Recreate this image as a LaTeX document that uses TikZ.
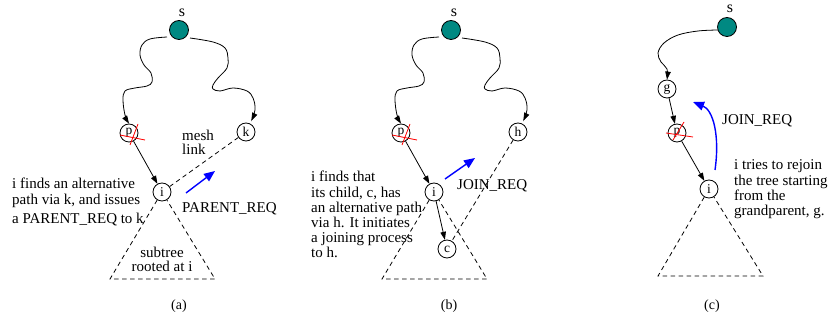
\documentclass[tikz,border=0pt]{standalone}
\usepackage{fontspec}
\setmainfont{Liberation Serif}
\usetikzlibrary{arrows.meta}
\definecolor{tealf}{RGB}{0,137,130}
\newcommand\upperAB[1]{%
  \node[src] (s) at (179,30) {};
  \node[ctxt,font=\fontsize{16}{16}\selectfont] (sl) at (182,17) {s};
  \node[nd] (p) at (129,133) {p};
  \node[nd] (r) at (246,132) {#1};
  \node[nd] (i) at (162,192) {i};
  \draw[cross] ([shift={(-9,2)}]p.center) -- ++(25,5);
  \draw[cross] ([shift={(1,12)}]p.center) -- ++(8,-21);
  \coordinate (s0) at ([shift={(-12,7)}]s.center);
  \coordinate (s1) at ([shift={(11,8)}]s.center);
  \draw[arr] plot[smooth,tension=0.6] coordinates {(s0) (150,39) (142,45) (140,55) (144,65) (151,73) (152,82) (147,86) (135,88) (125,91) (123,100) (125,115) (p.north)};
  \draw[arr,shorten >=3pt] plot[smooth,tension=0.6] coordinates {(s1) (213,42) (225,48) (228,58) (227,68) (218,78) (213,85) (213,89) (220,91) (233,88) (247,91) (253,98) (255,110) (r.65)};
  \draw[arr] (p) -- (i);
  \draw[dsh] (i) -- (110,279) -- (215,279) -- (i);
}
\begin{document}
\begin{tikzpicture}[x=1pt,y=-1pt,
  nd/.style={circle,draw,line width=0.8pt,inner sep=0pt,minimum size=18pt,font=\fontsize{13.5}{13.5}\selectfont},
  src/.style={circle,draw,line width=0.8pt,fill=tealf,inner sep=0pt,minimum size=19pt},
  con/.style={line width=0.8pt},
  arr/.style={con,-{Triangle[length=8pt,width=5.5pt]}},
  barr/.style={blue,line width=1.4pt,-{Triangle[length=11pt,width=9pt]}},
  dsh/.style={line width=0.8pt,dash pattern=on 4.5pt off 3.5pt},
  txt/.style={anchor=base west,inner sep=0pt,font=\fontsize{15}{15}\selectfont},
  ctxt/.style={anchor=base,inner sep=0pt,font=\fontsize{15}{15}\selectfont},
  cross/.style={red,line width=0.8pt}]
\useasboundingbox (0,0) rectangle (830,320);

% ---------- (a)
\begin{scope}[name prefix=a-]
  \upperAB{k}
  \draw[dsh] (r) -- (i);
  \node[txt] (t1) at (182,141) {mesh};
  \node[txt] (t2) at (182,155) {link};
  \coordinate (b0) at (186,193);
  \coordinate (b1) at (215,171);
  \draw[barr] (b0) -- (b1);
  \node[txt] (t3) at (182,213) {PARENT\_REQ};
  \node[txt] (t4) at (12,189) {i finds an alternative};
  \node[txt] (t5) at (12,205) {path via k, and issues};
  \node[txt] (t6) at (12,224) {a PARENT\_REQ to k};
  \node[ctxt] (t7) at (162,258) {subtree};
  \node[ctxt] (t8) at (162,272) {rooted at i};
  \node[ctxt,font=\fontsize{14}{14}\selectfont] (cap) at (179,310) {(a)};
\end{scope}

% ---------- (b)
\begin{scope}[xshift=272pt,name prefix=b-]
  \upperAB{h}
  \node[nd] (c) at (175,249) {c};
  \draw[arr] (i) -- (c);
  \draw[dsh] (r) -- (c);
  \coordinate (b0) at (173,179);
  \coordinate (b1) at (203,158);
  \draw[barr] (b0) -- (b1);
  \node[txt] (t3) at (185,190) {JOIN\_REQ};
  \node[txt] (t4) at (39,182) {i finds that};
  \node[txt] (t5) at (39,198) {its child, c, has};
  \node[txt] (t6) at (39,213) {an alternative path};
  \node[txt] (t7) at (39,228) {via h. It initiates};
  \node[txt] (t8) at (39,243) {a joining process};
  \node[txt] (t9) at (39,258) {to h.};
  \node[ctxt,font=\fontsize{14}{14}\selectfont] (cap) at (177,310) {(b)};
\end{scope}

% ---------- (c)
\begin{scope}[name prefix=c-]
  \node[src] (s) at (727,27) {};
  \node[ctxt,font=\fontsize{16}{16}\selectfont] (sl) at (730,13) {s};
  \node[nd] (g) at (667,89) {g};
  \node[nd] (p) at (677,133) {p};
  \node[nd] (i) at (709,189) {i};
  \draw[cross] ([shift={(-11,0)}]p.center) -- ++(27,4);
  \draw[cross] ([shift={(-4,7)}]p.center) -- ++(11,-18);
  \coordinate (s0) at ([shift={(-9,3)}]s.center);
  \draw[arr] plot[smooth,tension=0.6] coordinates {(s0) (698,31) (678,35) (664,43) (658,53) (661,62) (667,69) (g.north)};
  \draw[arr] (g) -- (p);
  \draw[arr] (p) -- (i);
  \draw[dsh] (i) -- (658,276) -- (763,276) -- (i);
  \coordinate (b0) at (715,170);
  \coordinate (b1) at (693,102);
  \draw[barr] (b0) .. controls (720,135) and (713,110) .. (b1);
  \node[txt] (t3) at (722,125) {JOIN\_REQ};
  \node[txt] (t4) at (734,170) {i tries to rejoin};
  \node[txt] (t5) at (734,186) {the tree starting};
  \node[txt] (t6) at (734,201) {from the};
  \node[txt] (t7) at (734,216) {grandparent, g.};
  \node[ctxt,font=\fontsize{14}{14}\selectfont] (cap) at (712,309) {(c)};
\end{scope}
\end{tikzpicture}
\end{document}
